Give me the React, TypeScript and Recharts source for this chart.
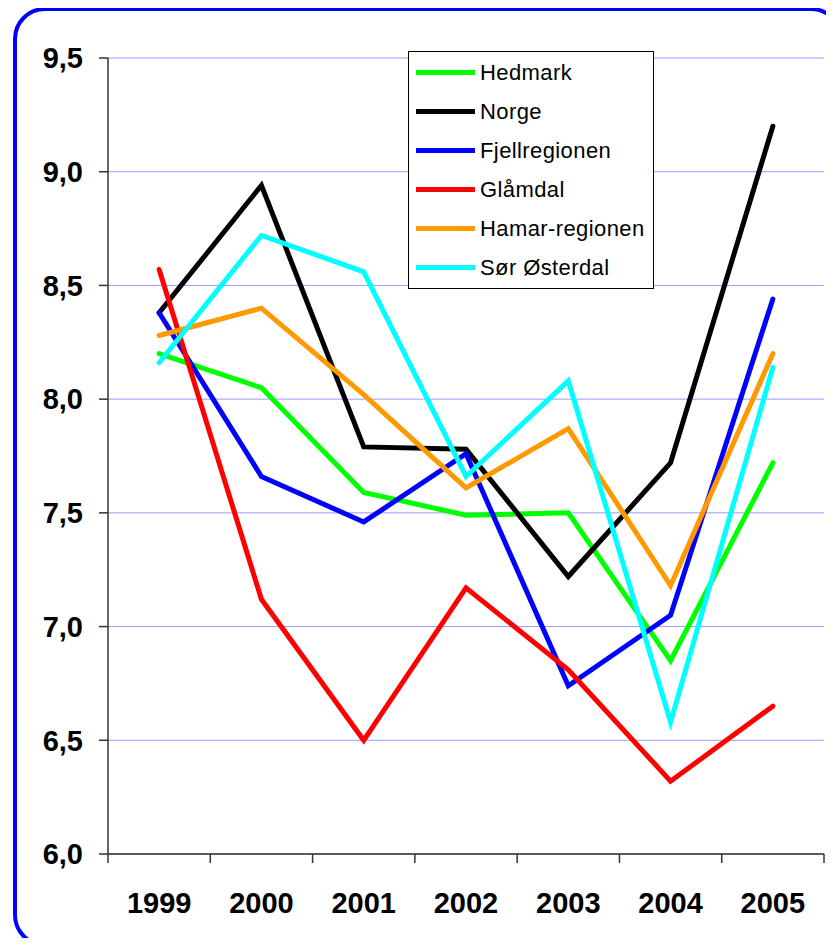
import { CartesianGrid, Legend, Line, LineChart, XAxis, YAxis } from "recharts";

const YEARS = ["1999", "2000", "2001", "2002", "2003", "2004", "2005"];
const HEDMARK = [8.2, 8.05, 7.59, 7.49, 7.5, 6.85, 7.72];
const NORGE = [8.38, 8.94, 7.79, 7.78, 7.22, 7.72, 9.2];
const FJELLREGIONEN = [8.38, 7.66, 7.46, 7.76, 6.74, 7.05, 8.44];
const GLAMDAL = [8.57, 7.12, 6.5, 7.17, 6.81, 6.32, 6.65];
const HAMAR = [8.28, 8.4, 8.02, 7.61, 7.87, 7.18, 8.2];
const SOR_OSTERDAL = [8.16, 8.72, 8.56, 7.66, 8.08, 6.58, 8.14];
const Y_TICKS = [6, 6.5, 7, 7.5, 8, 8.5, 9, 9.5];

const SERIES = [
  { key: "Hedmark", values: HEDMARK, color: "#00FF00" },
  { key: "Norge", values: NORGE, color: "#000000" },
  { key: "Fjellregionen", values: FJELLREGIONEN, color: "#0000FF" },
  { key: "Glåmdal", values: GLAMDAL, color: "#FF0000" },
  { key: "Hamar-regionen", values: HAMAR, color: "#FF9900" },
  { key: "Sør Østerdal", values: SOR_OSTERDAL, color: "#00FFFF" },
];

const data = YEARS.map((year, i) => {
  const row: Record<string, string | number> = { year };
  SERIES.forEach((s) => (row[s.key] = s.values[i]));
  return row;
});

const W = 834;
const H = 946;
const MARGIN = { top: 58, right: 10, left: 8, bottom: 0 };
const Y_AXIS_W = 100;
const PLOT_W = W - MARGIN.left - MARGIN.right - Y_AXIS_W;
const BAND = PLOT_W / YEARS.length;
const FONT = '"Liberation Sans", Arial, sans-serif';
const AXIS = "#333333";

function YearTick({ x, y, payload, index }: any) {
  const half = BAND / 2;
  return (
    <g>
      <line x1={x - half} x2={x - half} y1={y} y2={y + 9} stroke={AXIS} strokeWidth={1.5} />
      {index === YEARS.length - 1 && (
        <line x1={x + half} x2={x + half} y1={y} y2={y + 9} stroke={AXIS} strokeWidth={1.5} />
      )}
      <text x={x} y={y + 59} textAnchor="middle" fontFamily={FONT} fontSize={29} fontWeight="bold" fill="#000">
        {payload.value}
      </text>
    </g>
  );
}

// drawn from SERIES so the order stays as in the original (Legend sorts its payload)
function LegendBox() {
  return (
    <div
      style={{
        border: "1px solid #000",
        background: "#fff",
        width: 244,
        padding: "1px 0",
        fontFamily: FONT,
        fontSize: 22,
        letterSpacing: 0.4,
        color: "#000",
      }}
    >
      {SERIES.map((s) => (
        <div key={s.key} style={{ height: 39, display: "flex", alignItems: "center", whiteSpace: "nowrap" }}>
          <span style={{ display: "inline-block", marginLeft: 7, width: 59, height: 5, background: s.color }} />
          <span style={{ marginLeft: 5 }}>{s.key}</span>
        </div>
      ))}
    </div>
  );
}

export default function App() {
  return (
    <div style={{ position: "relative", width: W, height: H, margin: -8, overflow: "hidden", background: "#fff" }}>
      <div
        style={{
          position: "absolute",
          left: 13,
          top: 7,
          width: 830,
          height: 940,
          boxSizing: "border-box",
          border: "4px solid #0000FF",
          borderRadius: 32,
        }}
      />
      <div style={{ position: "absolute", left: 0, top: 0 }}>
        <LineChart width={W} height={H} data={data} margin={MARGIN}>
          <CartesianGrid xAxisId="x" yAxisId="y" vertical={false} stroke="#9999FF" />
          <XAxis
            xAxisId="x"
            dataKey="year"
            scale="band"
            height={92}
            axisLine={{ stroke: AXIS, strokeWidth: 1.5 }}
            tickLine={false}
            tickSize={0}
            tickMargin={0}
            tick={<YearTick />}
            interval={0}
          />
          <XAxis
            xAxisId="top"
            dataKey="year"
            scale="band"
            orientation="top"
            height={0}
            tick={false}
            tickLine={false}
            axisLine={{ stroke: "#808080", strokeWidth: 1.5 }}
          />
          <YAxis
            yAxisId="y"
            width={Y_AXIS_W}
            domain={[6, 9.5]}
            ticks={Y_TICKS}
            interval={0}
            tickFormatter={(v: number) => v.toFixed(1).replace(".", ",")}
            tick={{ fontFamily: FONT, fontSize: 29, fontWeight: "bold", fill: "#000" }}
            tickSize={9}
            tickMargin={16}
            tickLine={{ stroke: AXIS, strokeWidth: 1.5 }}
            axisLine={{ stroke: AXIS, strokeWidth: 1.5 }}
          />
          <YAxis
            yAxisId="r"
            orientation="right"
            width={0}
            domain={[6, 9.5]}
            tick={false}
            tickLine={false}
            axisLine={{ stroke: "#808080", strokeWidth: 1.5 }}
          />
          <Legend
            layout="vertical"
            align="center"
            verticalAlign="middle"
            content={<LegendBox />}
            wrapperStyle={{ left: 408, top: 51, width: 246 }}
          />
          {SERIES.map((s) => (
            <Line
              key={s.key}
              xAxisId="x"
              yAxisId="y"
              dataKey={s.key}
              name={s.key}
              stroke={s.color}
              strokeWidth={5}
              strokeLinecap="round"
              dot={false}
              activeDot={false}
              isAnimationActive={false}
            />
          ))}
        </LineChart>
      </div>
    </div>
  );
}
